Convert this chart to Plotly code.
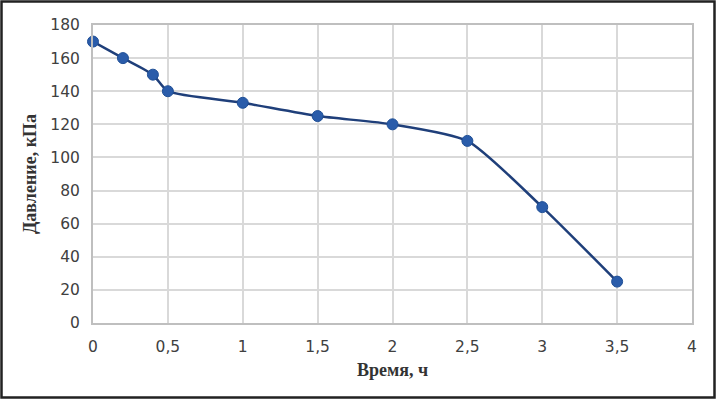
import plotly.graph_objects as go

time_h = [0, 0.2, 0.4, 0.5, 1, 1.5, 2, 2.5, 3, 3.5]
pressure_kpa = [170, 160, 150, 140, 133, 125, 120, 110, 70, 25]

W, H = 716, 399
ML, MR, MT, MB = 93, 24, 25, 76

fig = go.Figure()
fig.add_trace(go.Scatter(
    x=time_h, y=pressure_kpa, mode="lines+markers",
    line=dict(color="#1f3f7a", width=2.5, shape="spline", smoothing=0.6),
    marker=dict(color="#2a5caa", size=11, line=dict(color="#1f4f96", width=1)),
    showlegend=False, cliponaxis=False,
))

pw = W - ML - MR
ph = H - MT - MB
fig.add_shape(type="rect", xref="paper", yref="paper",
              x0=-(ML - 1.5) / pw, x1=1 + (MR - 1.5) / pw,
              y0=-(MB - 1.5) / ph, y1=1 + (MT - 1.5) / ph,
              line=dict(color="#222222", width=2.5), layer="above")

fig.update_layout(
    width=W, height=H,
    margin=dict(l=ML, r=MR, t=MT, b=MB),
    paper_bgcolor="white", plot_bgcolor="white",
    separators=", ",
    font=dict(family="DejaVu Sans", size=15.5, color="#404040"),
)
fig.update_xaxes(
    range=[0, 4], dtick=0.5, tick0=0,
    showgrid=True, gridcolor="#d9d9d9", gridwidth=1.5,
    showline=True, linecolor="#bfbfbf", linewidth=2, mirror=True,
    ticks="", zeroline=False, ticklabelstandoff=8,
    tickfont=dict(family="DejaVu Sans", size=15.5, color="#404040"),
    title=dict(text="Время, ч", standoff=9,
               font=dict(family="Liberation Serif", size=18, color="#333333", weight="bold")),
)
fig.update_yaxes(
    range=[0, 180], dtick=20, tick0=0,
    showgrid=True, gridcolor="#d9d9d9", gridwidth=1.5,
    showline=True, linecolor="#bfbfbf", linewidth=2, mirror=True,
    ticks="", zeroline=False, ticklabelstandoff=8,
    tickfont=dict(family="DejaVu Sans", size=15.5, color="#404040"),
    title=dict(text="Давление, кПа", standoff=9,
               font=dict(family="Liberation Serif", size=18, color="#333333", weight="bold")),
)

fig.write_html("out.html", config={"displayModeBar": False},
               post_script="document.body.style.margin='0';document.body.style.overflow='hidden';")
